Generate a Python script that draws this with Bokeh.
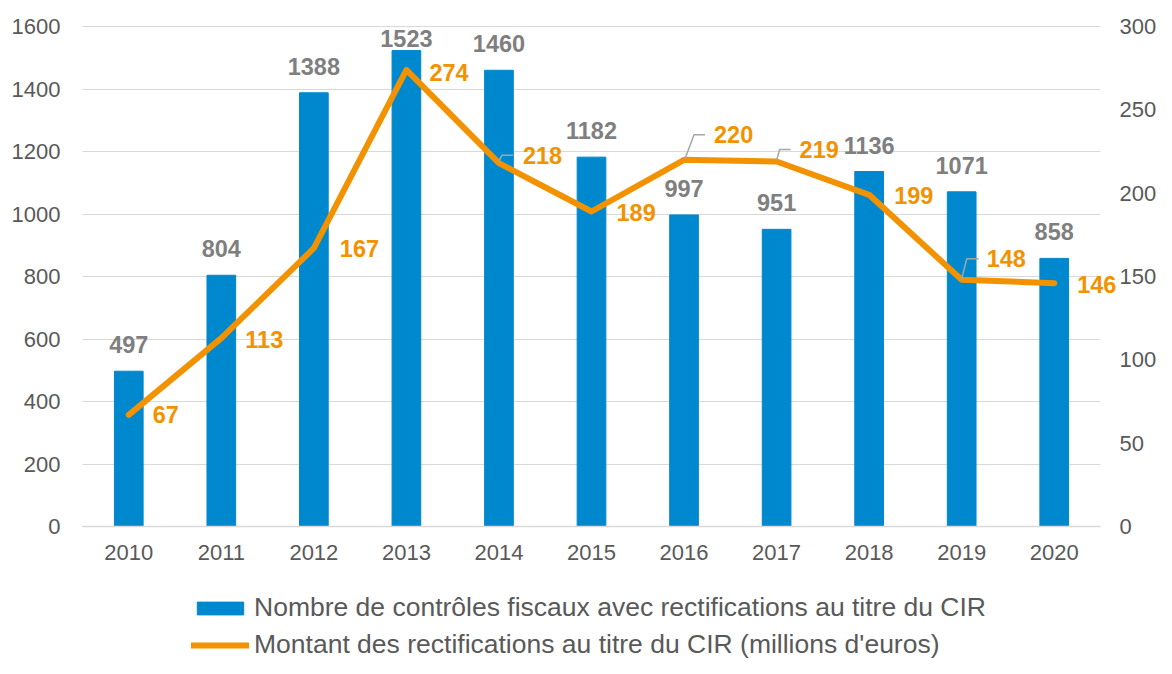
from bokeh.plotting import figure
from bokeh.models import (Range1d, LinearAxis, Legend, LegendItem, Grid,
                          ColumnDataSource, FixedTicker)
from bokeh.embed import file_html
from bokeh.resources import INLINE
from bokeh.core.properties import value

# ---- data ----
years = ["2010", "2011", "2012", "2013", "2014", "2015", "2016", "2017", "2018", "2019", "2020"]
controls = [497, 804, 1388, 1523, 1460, 1182, 997, 951, 1136, 1071, 858]
amounts = [67, 113, 167, 274, 218, 189, 220, 219, 199, 148, 146]
left_ticks = [0, 200, 400, 600, 800, 1000, 1200, 1400, 1600]
right_ticks = [0, 50, 100, 150, 200, 250, 300]
bar_label = "Nombre de contrôles fiscaux avec rectifications au titre du CIR"
line_label = "Montant des rectifications au titre du CIR (millions d'euros)"

FONT = "Liberation Sans"
BLUE = "#0088CE"
ORANGE = "#F39200"
GRID = "#D9D9D9"
TICK = "#595959"

W, H = 1156, 658
# plotting area (in pixels of the canvas)
PL, PR, PT, PB = 82, 1100, 26, 526
ncat = len(years)
cat_px = (PR - PL) / ncat
xpos = list(range(ncat))                      # category i is centred at x = i
x_lo = -0.5 - PL / cat_px
x_hi = ncat - 0.5 + (W - PR) / cat_px
lmax, rmax = left_ticks[-1], right_ticks[-1]
l_per_px = lmax / (PB - PT)
r_per_px = rmax / (PB - PT)

p = figure(x_range=Range1d(x_lo, x_hi),
           y_range=Range1d(-(H - PB) * l_per_px, lmax + PT * l_per_px),
           width=W, height=H, output_backend="svg", toolbar_location=None,
           x_axis_location=None, y_axis_location=None,
           min_border=0, min_border_left=0, min_border_right=0,
           min_border_top=0, min_border_bottom=0)
p.extra_y_ranges = {"right": Range1d(-(H - PB) * r_per_px, rmax + PT * r_per_px)}
p.outline_line_color = None
p.background_fill_color = "white"
p.border_fill_color = "white"
for g in p.grid:
    g.visible = False

# grid lines only across the plotting area
ygrid = Grid(dimension=1, ticker=FixedTicker(ticks=left_ticks),
             grid_line_color=GRID, grid_line_width=1)
has_cross = "cross_bounds" in Grid.properties()
if has_cross:
    ygrid.cross_bounds = (-0.5, ncat - 0.5)
p.add_layout(ygrid)

bars = p.vbar(x=xpos, top=controls, width=0.31, fill_color=BLUE, line_color=BLUE)
line = p.line(x=xpos, y=amounts, y_range_name="right", line_width=6,
              line_color=ORANGE, line_join="round", line_cap="round")

# bar labels
bar_yoff = [-18 if v < 1500 else -4 for v in controls]
bsrc = ColumnDataSource(dict(x=xpos, y=controls, t=[str(v) for v in controls], yo=bar_yoff))
p.text(x="x", y="y", text="t", source=bsrc, y_offset="yo",
       text_align="center", text_baseline="bottom",
       text_font=value(FONT), text_font_size="23.5px", text_font_style="bold",
       text_color="#7F7F7F")

# line labels (pixel offsets from point)
dxs = [24, 24, 26, 23, 24, 25, 30, 23, 25, 25, 23]
dys = [0, 1, 0, 3, -8, 1, -25, -12, 1, -21, 1]
lsrc = ColumnDataSource(dict(x=xpos, y=amounts, t=[str(v) for v in amounts], xo=dxs, yo=dys))
p.text(x="x", y="y", text="t", source=lsrc, x_offset="xo", y_offset="yo",
       y_range_name="right",
       text_align="left", text_baseline="middle",
       text_font=value(FONT), text_font_size="23.5px", text_font_style="bold",
       text_color=ORANGE)

# leader lines for labels placed away from their points
px_per_unit = 1 / r_per_px
leaders = {4: [(0, -2), (3, -8), (14, -8)],
           6: [(1, -1), (10, -25), (21, -25)],
           7: [(0, -1), (3, -12), (14, -12)],
           9: [(0, -1), (5, -21), (17, -21)]}
xs, ys = [], []
for i, pts in leaders.items():
    xs.append([xpos[i] + dx / cat_px for dx, dy in pts])
    ys.append([amounts[i] - dy / px_per_unit for dx, dy in pts])
p.multi_line(xs=xs, ys=ys, y_range_name="right", line_color="#A6A6A6", line_width=1.5)

# axes (drawn at fixed locations)
la = LinearAxis(fixed_location=-0.5, ticker=FixedTicker(ticks=left_ticks))
ra = LinearAxis(fixed_location=ncat - 0.5, y_range_name="right",
                ticker=FixedTicker(ticks=right_ticks))
xa = LinearAxis(fixed_location=0, ticker=FixedTicker(ticks=xpos),
                major_label_overrides={i: y for i, y in zip(xpos, years)},
                bounds=(-0.5, ncat - 0.5))
for ax in [la, ra, xa]:
    ax.major_tick_line_color = None
    ax.minor_tick_line_color = None
    ax.major_tick_out = 0
    ax.major_tick_in = 0
    ax.minor_tick_out = 0
    ax.minor_tick_in = 0
    ax.major_label_text_font = FONT
    ax.major_label_text_font_size = "22px"
    ax.major_label_text_color = TICK
la.axis_line_color = None
ra.axis_line_color = None
la.major_label_standoff = 22
ra.major_label_standoff = 19
xa.major_label_standoff = 18
xa.axis_line_color = GRID
xa.axis_line_width = 1.5
if not has_cross:
    # fallback: long inward ticks act as the horizontal grid lines
    la.major_tick_line_color = GRID
    la.major_tick_in = int(PR - PL)
p.add_layout(la, "left")
p.add_layout(ra, "right")
p.add_layout(xa, "below")

legend = Legend(items=[LegendItem(label=bar_label, renderers=[bars]),
                       LegendItem(label=line_label, renderers=[line])],
                location=(191, -2), orientation="vertical",
                label_text_font=FONT, label_text_font_size="26.5px",
                label_text_color=TICK, glyph_width=58, glyph_height=16,
                label_standoff=5, label_height=30, spacing=6, padding=0, margin=0,
                border_line_color=None, background_fill_alpha=0)
p.add_layout(legend, "center")

open("out.html", "w").write(file_html(p, INLINE))
